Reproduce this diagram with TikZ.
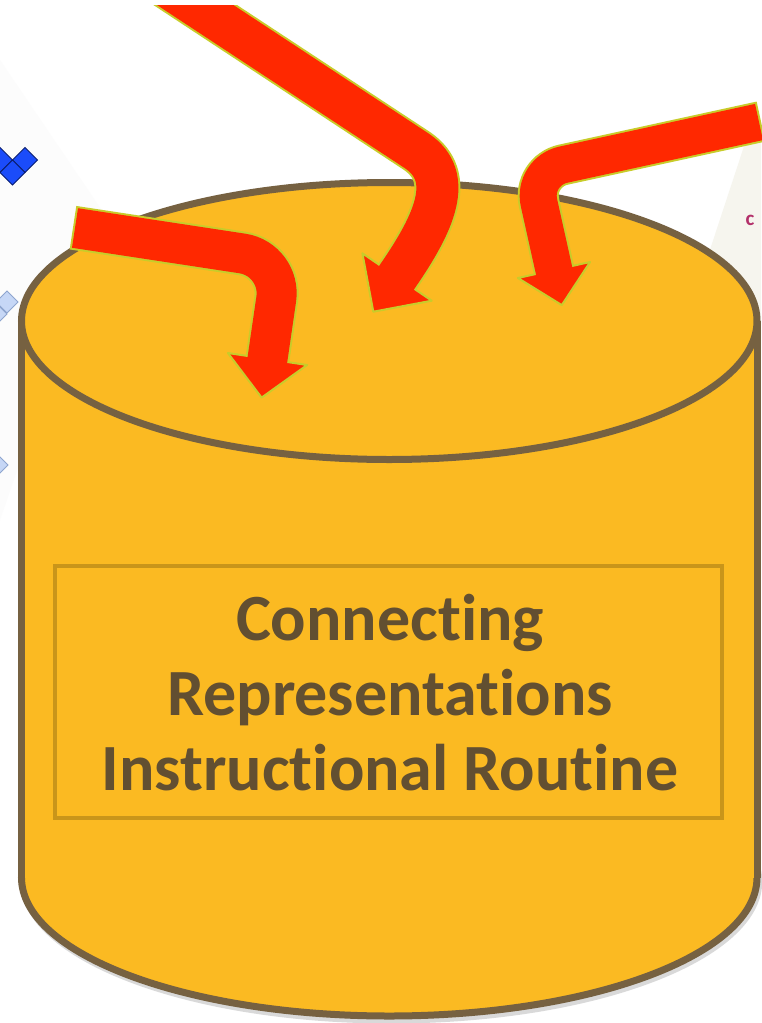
\documentclass[tikz,border=0pt]{standalone}
\usepackage{fontspec}
\setmainfont{Carlito}[Ligatures=NoCommon]
\definecolor{cylfill}{HTML}{FBBA22}
\definecolor{cylline}{HTML}{766141}
\definecolor{boxline}{HTML}{C9951A}
\definecolor{txtcol}{HTML}{624F31}
\definecolor{arrowred}{HTML}{FF2800}
\definecolor{arrowedge}{HTML}{C8CC2A}
\definecolor{dkblue}{HTML}{1B4CFA}
\definecolor{dkblueline}{HTML}{0A1E70}
\definecolor{ltblue}{HTML}{C6D7F6}
\definecolor{ltblueline}{HTML}{8EA5CF}
\definecolor{cream}{HTML}{F6F5EE}
\definecolor{cpink}{HTML}{B3306A}
\begin{document}
\begin{tikzpicture}[x=1pt,y=-1pt,
  lbl/.style={font=\bfseries\fontsize{66}{75}\selectfont, text=txtcol, inner sep=0pt, anchor=base},
  cylstroke/.style={draw=cylline, line width=7pt},
  shaftedge/.style={draw=arrowedge},
  shaftbody/.style={draw=arrowred},
  headshape/.style={fill=arrowred, draw=arrowedge, line width=2pt, line join=round},
  shadowline/.style={draw=black, opacity=0.22},
  shadowfill/.style={fill=black, opacity=0.22},
  dkdia/.style={fill=dkblue, draw=dkblueline, line width=1pt},
  ltdia/.style={fill=ltblue, draw=ltblueline, line width=1pt}]
\useasboundingbox (0,0) rectangle (761,1023);
\fill[white] (0,0) rectangle (761,1023);
% background sheets
\fill[black!1.2] (0,60) -- (105,215) -- (0,520) -- cycle;
\fill[cream] (751,125) -- (761,122) -- (761,420) -- (654,420) -- cycle;
\node[font=\bfseries\fontsize{21}{21}\selectfont, text=cpink, inner sep=0pt] (cc) at (750,220) {c};
% diamonds
\foreach \cx/\cy in {0/160, 25/160, 12.5/172.5}
  \draw[dkdia] (\cx,\cy-12.5) -- (\cx+12.5,\cy) -- (\cx,\cy+12.5) -- (\cx-12.5,\cy) -- cycle;
\foreach \cx/\cy/\h in {7/302/11, -4/314/11, -2/465/10}
  \draw[ltdia] (\cx,\cy-\h) -- (\cx+\h,\cy) -- (\cx,\cy+\h) -- (\cx-\h,\cy) -- cycle;
% cylinder shadow
\begin{scope}[shift={(2,4)}]
  \fill[black, opacity=0.15] (389.25,877.5) ellipse[x radius=371, y radius=142];
\end{scope}
% cylinder
\filldraw[fill=cylfill, cylstroke] (389.25,877.5) ellipse[x radius=367.75, y radius=138.5];
\fill[cylfill] (21.5,321) rectangle (757,877.5);
\draw[cylstroke] (21.5,321) -- (21.5,877.5);
\draw[cylstroke] (757,321) -- (757,877.5);
\filldraw[fill=cylfill, cylstroke] (389.25,321) ellipse[x radius=367.75, y radius=138.5];
% text box
\node[draw=boxline, line width=4pt, minimum width=667pt, minimum height=252pt, inner sep=0pt] (box) at (388.5,692) {};
\node[lbl] (t1) at (390,640) {Connecting};
\node[lbl] (t2) at (390,715) {Representations};
\node[lbl] (t3) at (390,790) {Instructional Routine};
% ---------- arrow 1 (left)
\coordinate (a1s) at (75,228);
\coordinate (a1t) at (73,227.7);
\coordinate (a1c) at (282,259.5);
\coordinate (a1b) at (267.5,359);
\coordinate (a1e) at (267.2,361);
\coordinate (a1l) at (227.9,353);
\coordinate (a1r) at (307.1,365);
\coordinate (a1p) at (261.6,397.6);
\begin{scope}[shift={(3,4)}]
  \draw[shadowline, line width=42pt, rounded corners=40pt] (a1s) -- (a1c) -- (a1b);
  \fill[shadowfill] (a1l) -- (a1p) -- (a1r) -- cycle;
\end{scope}
\draw[shaftedge, line width=44pt, rounded corners=40pt] (a1t) -- (a1c) -- (a1b);
\filldraw[headshape] (a1l) -- (a1p) -- (a1r) -- cycle;
\draw[shaftbody, line width=40pt, rounded corners=40pt] (a1s) -- (a1c) -- (a1e);
% ---------- arrow 2 (middle)
\begin{scope}
\clip (0,5) rectangle (761,1023);
\coordinate (a2s) at (161,-17.5);
\coordinate (a2c) at (417,151);
\coordinate (a2k1) at (455,177);
\coordinate (a2k2) at (435,222);
\coordinate (a2b) at (397,277);
\coordinate (a2e) at (395.9,278.7);
\coordinate (a2l) at (362.4,253.3);
\coordinate (a2r) at (431.7,300.7);
\coordinate (a2p) at (373.3,311.7);
\begin{scope}[shift={(3,4)}]
  \draw[shadowline, line width=44pt] (a2s) -- (a2c) .. controls (a2k1) and (a2k2) .. (a2b);
  \fill[shadowfill] (a2l) -- (a2p) -- (a2r) -- cycle;
\end{scope}
\draw[shaftedge, line width=46pt] (a2s) -- (a2c) .. controls (a2k1) and (a2k2) .. (a2b);
\filldraw[headshape] (a2l) -- (a2p) -- (a2r) -- cycle;
\draw[shaftbody, line width=42pt] (a2s) -- (a2c) .. controls (a2k1) and (a2k2) .. (a2b) -- (a2e);
\end{scope}
% ---------- arrow 3 (right)
\coordinate (a3s) at (759,122);
\coordinate (a3t) at (761,121.6);
\coordinate (a3c) at (532,171.5);
\coordinate (a3b) at (554,270);
\coordinate (a3e) at (554.4,272);
\coordinate (a3l) at (517.9,278);
\coordinate (a3r) at (590.1,262);
\coordinate (a3p) at (561.8,305.1);
\begin{scope}[shift={(3,4)}]
  \draw[shadowline, line width=39pt, rounded corners=32pt] (a3s) -- (a3c) -- (a3b);
  \fill[shadowfill] (a3l) -- (a3p) -- (a3r) -- cycle;
\end{scope}
\draw[shaftedge, line width=41pt, rounded corners=32pt] (a3t) -- (a3c) -- (a3b);
\filldraw[headshape] (a3l) -- (a3p) -- (a3r) -- cycle;
\draw[shaftbody, line width=37pt, rounded corners=32pt] (a3s) -- (a3c) -- (a3e);
\end{tikzpicture}
\end{document}
